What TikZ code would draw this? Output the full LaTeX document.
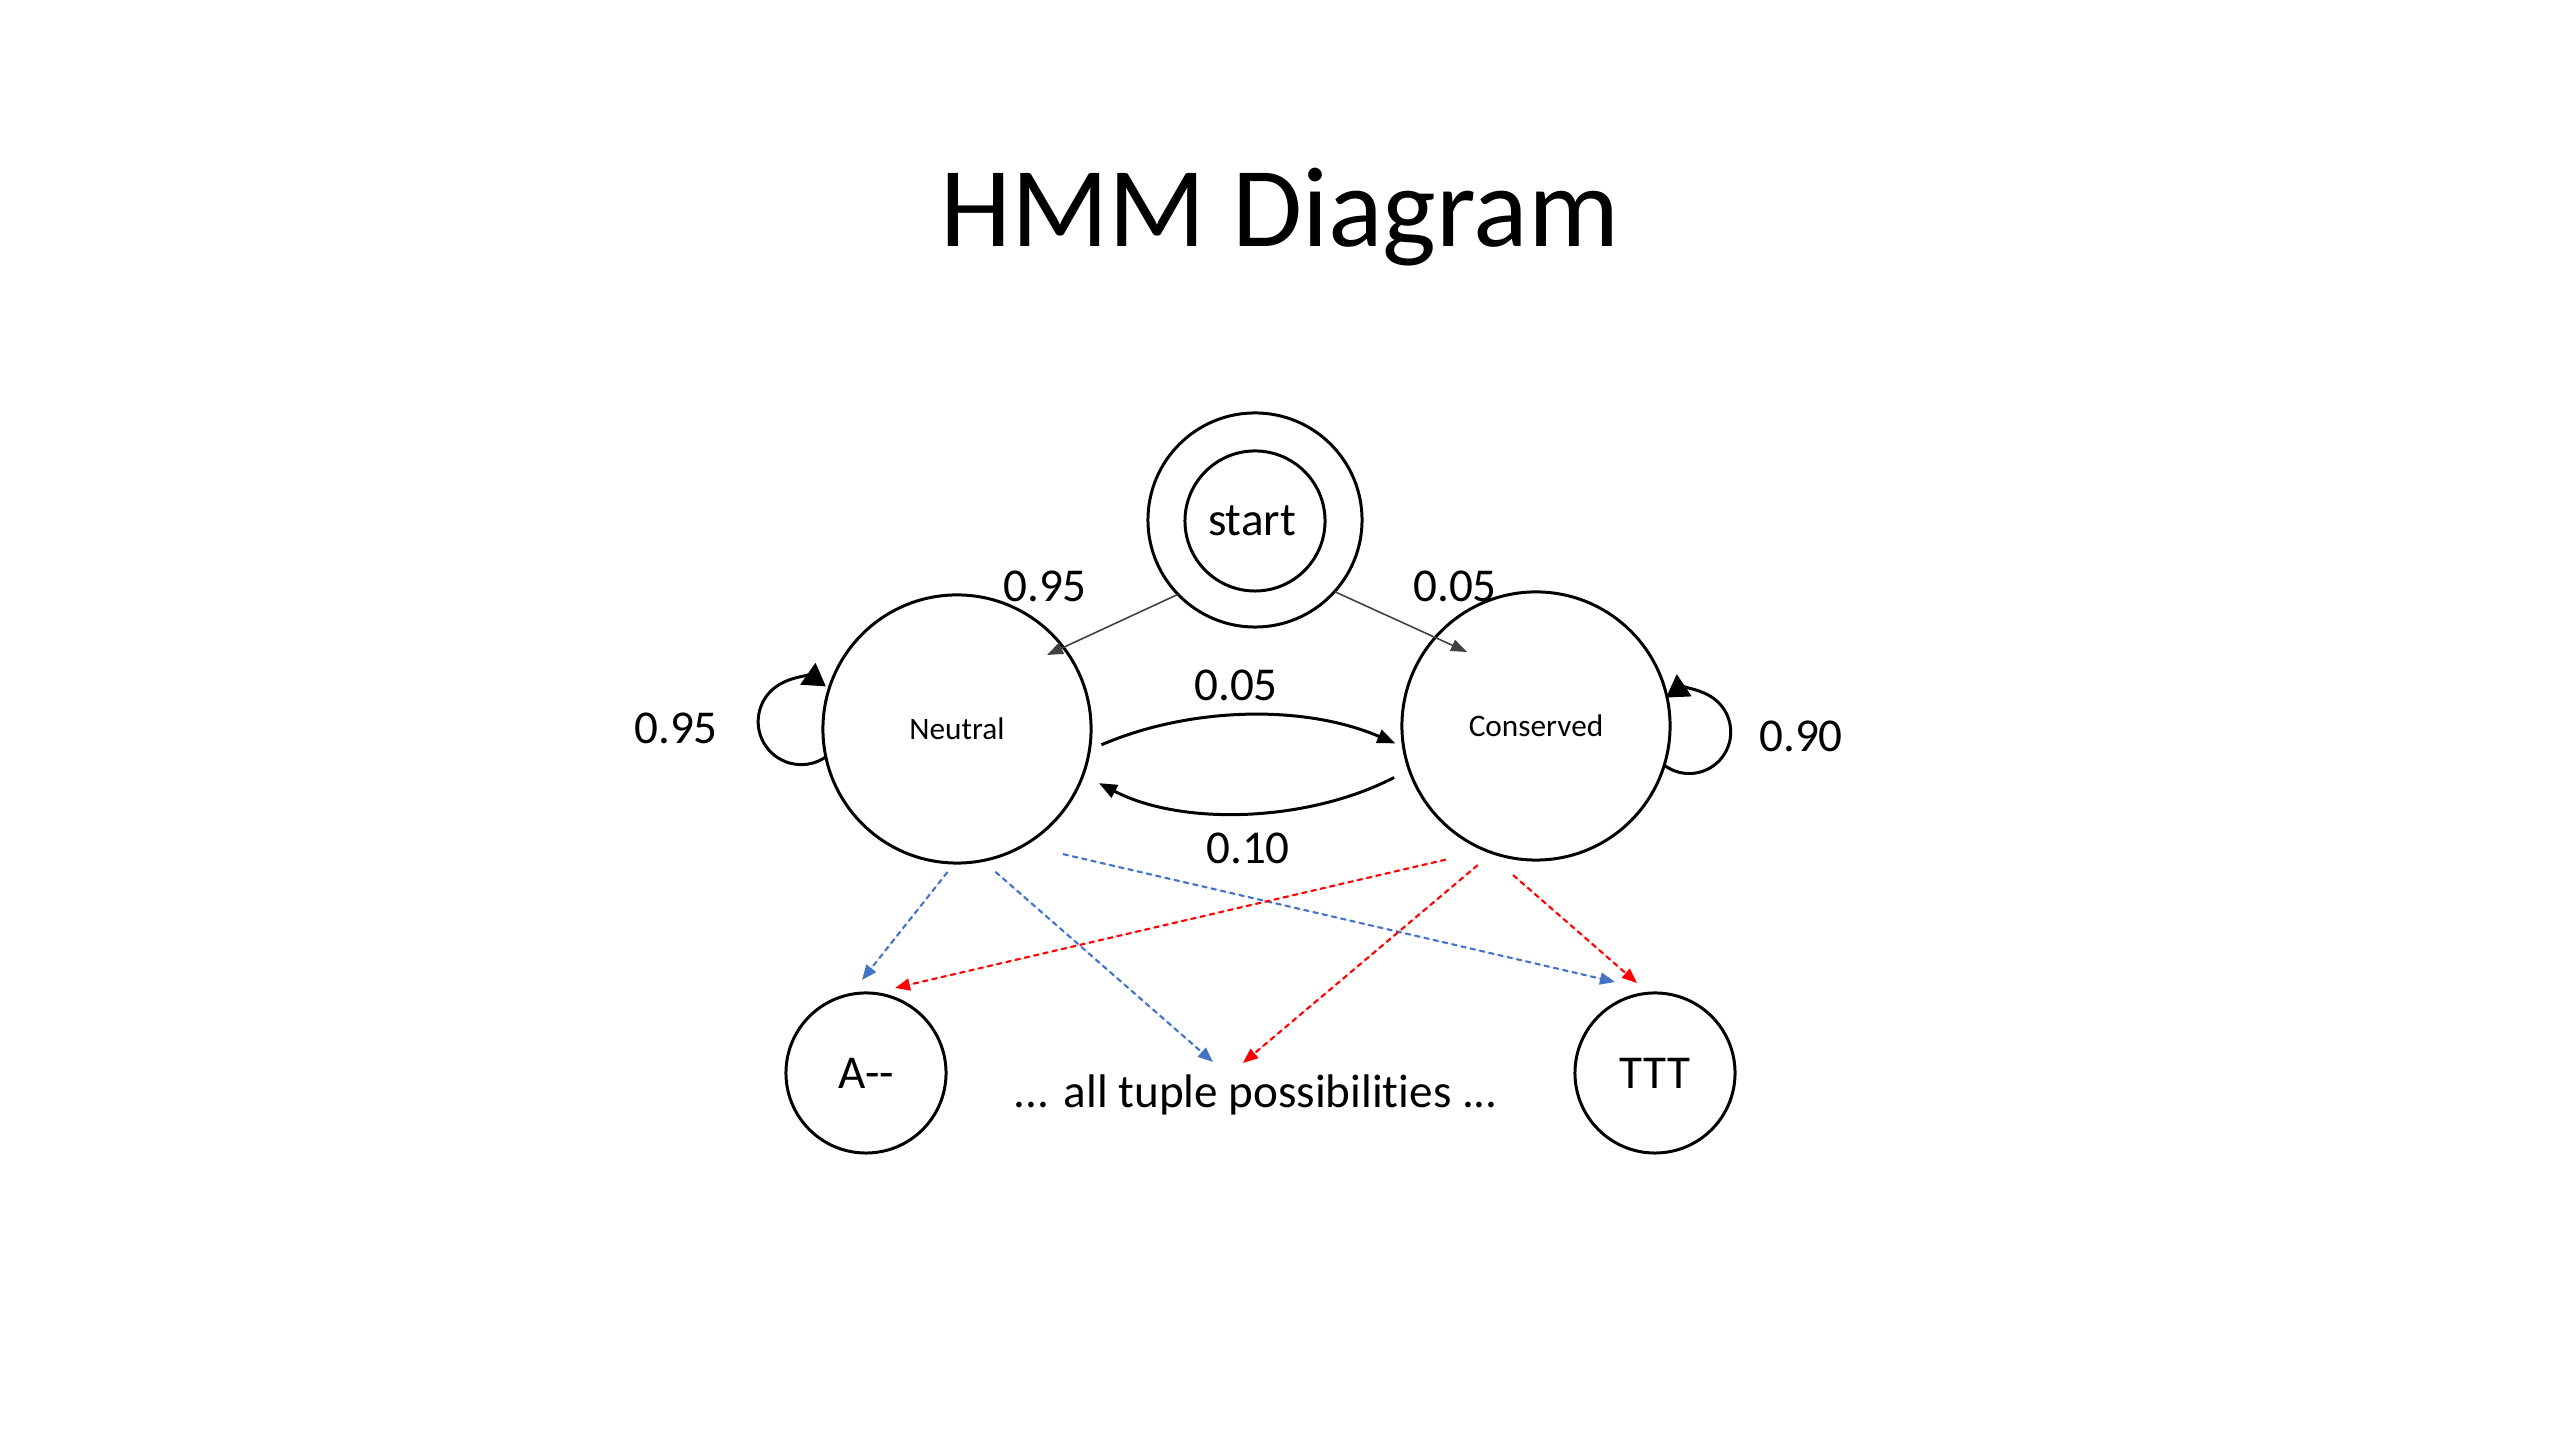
\documentclass[tikz,border=0pt]{standalone}
\usepackage{fontspec}
\setmainfont{Carlito}[Ligatures={TeX,NoCommon}]
\usetikzlibrary{arrows.meta}
\definecolor{emblue}{HTML}{4472C4}
\definecolor{emred}{HTML}{FF0000}
\definecolor{startgray}{HTML}{404040}
\begin{document}
\begin{tikzpicture}[x=0.01cm,y=0.01cm,
  state/.style={circle,draw,line width=0.85pt,inner sep=0pt,outer sep=0pt},
  bigfont/.style={font=\fontsize{13.4}{16}\selectfont},
  lbl/.style={bigfont,inner sep=0pt},
  startarr/.style={draw=startgray,line width=0.45pt,-{Triangle[length=0.16cm,width=0.12cm]}},
  trans/.style={line width=0.85pt,-{Triangle[length=0.18cm,width=0.14cm]}},
  selfloop/.style={line width=0.85pt,-{Triangle[length=0.22cm,width=0.26cm]}},
  emit/.style={line width=0.6pt,dash pattern=on 1.6pt off 1.1pt,-{Triangle[length=0.15cm,width=0.12cm]}},
  emitB/.style={emit,draw=emblue,fill=emblue},
  emitR/.style={emit,draw=emred,fill=emred}
]
\useasboundingbox (0,0) rectangle (2560,1440);

% title
\node[font=\fontsize{32.4}{38}\selectfont, anchor=base, inner sep=0pt] (title) at (1280,1193) {HMM Diagram};

% states
\node[state, minimum size=2.14cm] (S) at (1255,920) {};
\node[state, minimum size=1.40cm, bigfont] (Sin) at (1255,919) {\hspace*{-0.06cm}start};
\node[state, minimum size=2.68cm, font=\fontsize{8.9}{10}\selectfont] (N) at (957,711) {Neutral};
\node[state, minimum size=2.68cm, font=\fontsize{8.9}{10}\selectfont] (C) at (1536,714) {Conserved};
\node[state, minimum size=1.6cm, bigfont] (A) at (866,367) {A-{}-};
\node[state, minimum size=1.6cm, bigfont] (T) at (1655,367) {TTT};
\node[lbl, anchor=base] (tuple) at (1256,332) {... all tuple possibilities ...};

% labels
\node[lbl] (l1) at (1045,854) {0.95};
\node[lbl] (l2) at (1455,854) {0.05};
\node[lbl] (l3) at (1236,755) {0.05};
\node[lbl] (l4) at (1248,592) {0.10};
\node[lbl] (l5) at (676,712) {0.95};
\node[lbl] (l6) at (1801,704) {0.90};

% start transitions
\coordinate (tN) at ([shift={(90,74)}]N.center);
\coordinate (tC) at ([shift={(-69,74)}]C.center);
\draw[startarr] (S.224) -- (tN);
\draw[startarr] (S.318) -- (tC);

% transitions between states
\draw[trans, shorten <=0.13cm, shorten >=0.09cm] (N.-9) .. controls +(100,43) and +(-100,43) .. (C.189);
\draw[trans, shorten <=0.17cm, shorten >=0.18cm] (C.199) .. controls +(-100,-52) and +(100,-52) .. (N.-20);

% self loops
\draw[selfloop] (N.192) arc[start angle=-55, end angle=-305, radius=0.43cm];
\draw[selfloop] (C.-17) arc[start angle=-127, end angle=124, radius=0.415cm];

% emissions
\coordinate (e1) at ([shift={(-4,93)}]A.center);
\coordinate (e2) at ([shift={(-43,46)}]tuple.base);
\coordinate (e3) at ([shift={(-40,91)}]T.center);
\coordinate (e4) at ([shift={(29,85)}]A.center);
\coordinate (e5) at ([shift={(-13,45)}]tuple.base);
\coordinate (e6) at ([shift={(-18,90)}]T.center);
\draw[emitB, shorten <=0.115cm] (N.269) -- (e1);
\draw[emitB, shorten <=0.17cm] (N.281) -- (e2);
\draw[emitB, shorten <=0.40cm] (N.300) -- (e3);
\draw[emitR, shorten <=0.41cm] (C.248) -- (e4);
\draw[emitR, shorten <=0.19cm] (C.251) -- (e5);
\draw[emitR, shorten <=0.39cm] (C.247) -- (e6);
\end{tikzpicture}
\end{document}
